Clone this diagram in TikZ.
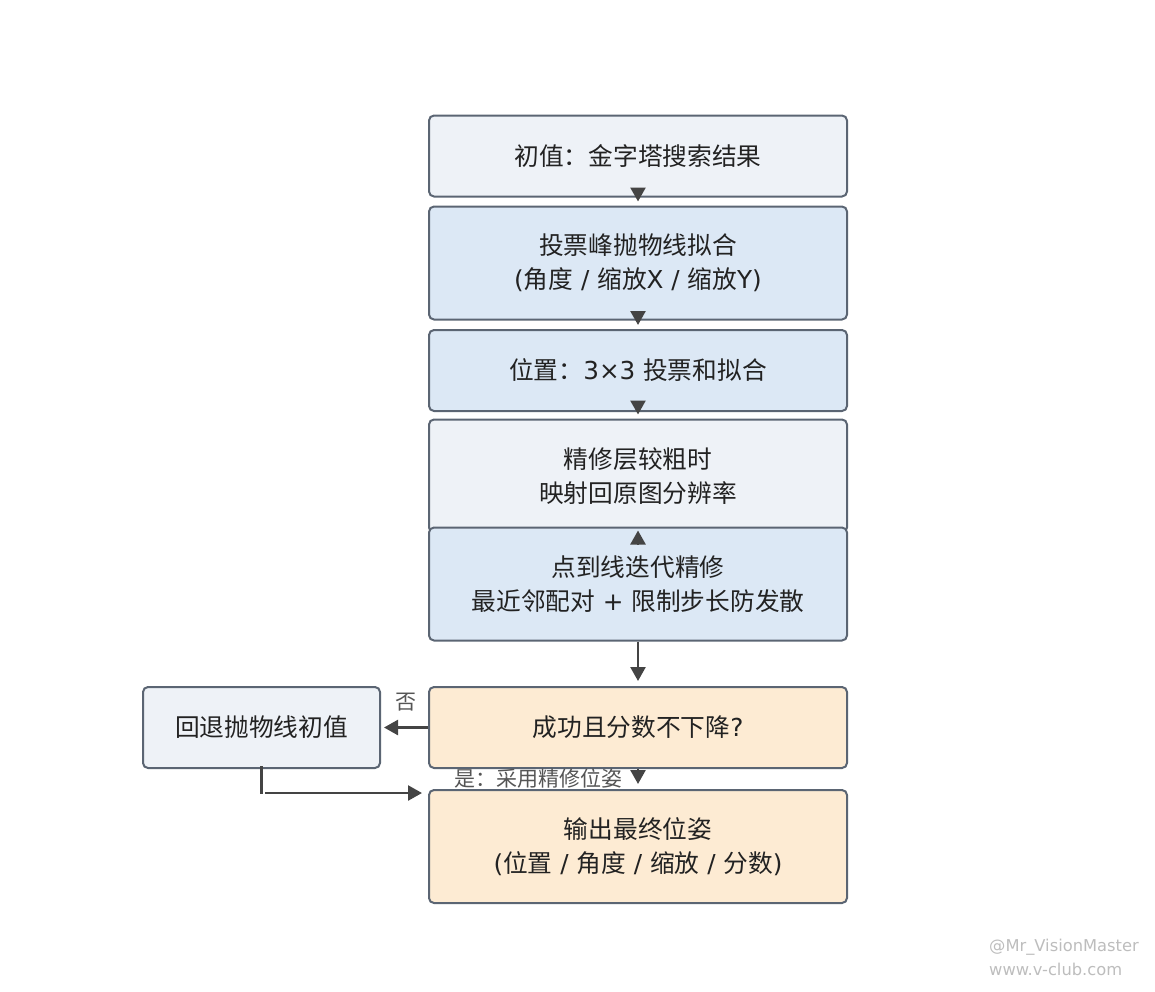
\documentclass[tikz,border=0pt]{standalone}
\usepackage{fontspec}
\setmainfont{Noto Sans CJK SC}
\newfontfamily\wmfont{DejaVu Sans}
\newfontfamily\latf{DejaVu Sans}
\newcommand\LT[1]{{\latf #1}}
\usetikzlibrary{arrows.meta}
\definecolor{bdr}{HTML}{5B6573}
\definecolor{fgray}{HTML}{EEF2F7}
\definecolor{fblue}{HTML}{DCE8F5}
\definecolor{forange}{HTML}{FDEBD3}
\definecolor{arrc}{HTML}{444444}
\definecolor{txt}{HTML}{222222}
\definecolor{lblc}{HTML}{555555}
\definecolor{wm}{HTML}{BDBDBD}
\begin{document}
\begin{tikzpicture}[x=1pt,y=-1pt,
 box/.style={draw=bdr,line width=2pt,rounded corners=5pt,minimum width=418pt,align=center,text=txt,font=\fontsize{24.7}{34}\selectfont,inner sep=0pt},
 one/.style={box,minimum height=81pt},
 two/.style={box,minimum height=113pt},
 arr/.style={draw=arrc,line width=2.5pt,-{Triangle[length=14pt,width=15pt]}},
 plain/.style={draw=arrc,line width=2.5pt},
 lbl/.style={font=\fontsize{21}{24}\selectfont,text=lblc,inner sep=0pt},
 wmk/.style={font=\wmfont\fontsize{16.3}{18}\selectfont,text=wm,anchor=west,inner sep=0pt}]
\path[use as bounding box] (0,0) rectangle (1155,991);

\node[one,fill=fgray] (A) at (638,156) {初值：金字塔搜索结果};
\node[two,fill=fblue] (B) at (638,263) {投票峰抛物线拟合\\\LT{(}角度\LT{ / }缩放\LT{X / }缩放\LT{Y)}};
\node[one,fill=fblue] (C) at (638,370.5) {位置：\LT{3×3 }投票和拟合};
\node[two,fill=fgray] (D) at (638,476) {精修层较粗时\\映射回原图分辨率};
\node[two,fill=fblue] (E) at (638,584) {点到线迭代精修\\最近邻配对\LT{ + }限制步长防发散};
\node[one,fill=forange] (F) at (638,727.5) {成功且分数不下降\LT{?}};
\node[one,fill=fgray,minimum width=237pt] (G) at (261.5,727.5) {回退抛物线初值};
\node[two,fill=forange] (H) at (638,846.5) {输出最终位姿\\\LT{(}位置\LT{ / }角度\LT{ / }缩放\LT{ / }分数\LT{)}};

\draw[arr] (A.south) -- ([yshift=4pt]B.north);
\draw[arr] (B.south) -- ([yshift=4pt]C.north);
\draw[arr] (C.south) -- ([yshift=4pt]D.north);
\draw[arr] ([yshift=-18pt]E.north) -- ([yshift=-4pt]E.north);
\draw[arr] (E.south) -- ([yshift=5pt]F.north);
\draw[arr] (F.west) -- ([xshift=3pt]G.east) node[midway,lbl,yshift=25pt] (no) {否};
\draw[arr] (F.south) -- ([yshift=5pt]H.north) node[midway,lbl,xshift=-100pt,yshift=-1.5pt] (yes) {是：采用精修位姿};
\draw[plain] ([yshift=3pt]G.south) -- ++(0,28);
\coordinate (gc) at ([xshift=3.5pt,yshift=-24pt]G.south);
\coordinate (gh) at (gc -| H.west);
\draw[arr] (gc) -- ([xshift=-6pt]gh);

\node[wmk] (w1) at (989,947) {@Mr\_VisionMaster};
\node[wmk] (w2) at (989,969) {www.v-club.com};
\end{tikzpicture}
\end{document}
